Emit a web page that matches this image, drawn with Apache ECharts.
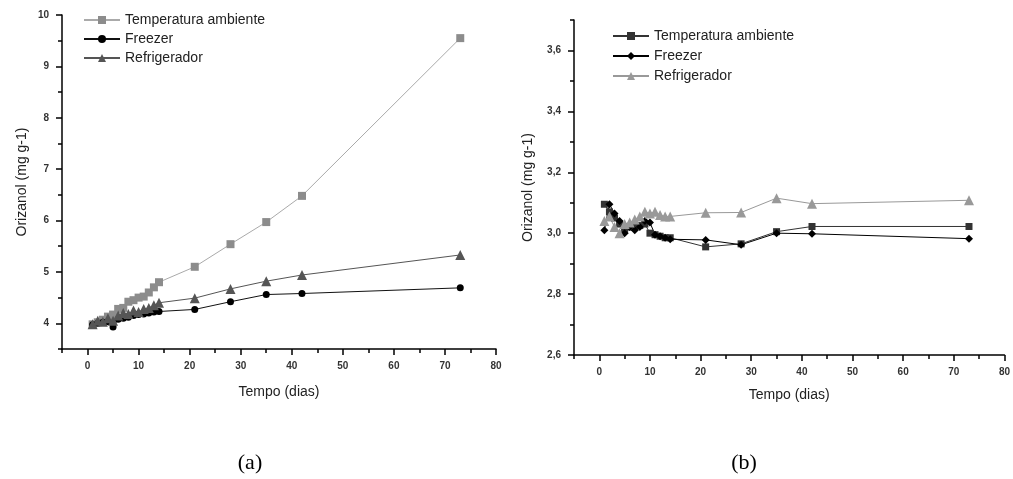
<!DOCTYPE html>
<html>
<head>
<meta charset="utf-8">
<script src="https://cdn.jsdelivr.net/npm/echarts@6/dist/echarts.min.js"></script>
<style>
  html, body { margin: 0; padding: 0; background: #fff; }
  #chart { width: 1013px; height: 479px; }
</style>
</head>
<body>
<div id="chart"></div>
<script>
// dias de armazenamento
const days = [1, 2, 3, 4, 5, 6, 7, 8, 9, 10, 11, 12, 13, 14, 21, 28, 35, 42, 73]

// (a)
const tempA    = [3.98, 4.02, 4.07, 4.13, 4.17, 4.28, 4.30, 4.42, 4.45, 4.50, 4.52, 4.60, 4.70, 4.80, 5.10, 5.54, 5.97, 6.48, 9.55]
const freezerA = [3.97, 4.00, 4.02, 4.03, 3.93, 4.08, 4.10, 4.12, 4.15, 4.17, 4.18, 4.20, 4.22, 4.23, 4.27, 4.42, 4.56, 4.58, 4.69]
const refrigA  = [3.98, 4.05, 4.03, 4.10, 4.05, 4.15, 4.20, 4.18, 4.25, 4.22, 4.28, 4.30, 4.35, 4.40, 4.49, 4.67, 4.82, 4.94, 5.33]

// (b)
const tempB    = [3.095, 3.07, 3.05, 3.03, 3.01, 3.02, 3.02, 3.025, 3.03, 3.0, 2.995, 2.99, 2.985, 2.985, 2.955, 2.965, 3.005, 3.022, 3.022]
const freezerB = [3.01, 3.095, 3.065, 3.04, 3.0, 3.02, 3.01, 3.02, 3.04, 3.035, 2.995, 2.99, 2.985, 2.98, 2.978, 2.962, 3.0, 2.998, 2.982]
const refrigB  = [3.04, 3.055, 3.02, 3.0, 3.03, 3.035, 3.045, 3.055, 3.07, 3.065, 3.07, 3.06, 3.055, 3.055, 3.067, 3.068, 3.115, 3.097, 3.108]

const names = ['Temperatura ambiente', 'Freezer', 'Refrigerador']

// ticks
const xMajor = [0, 10, 20, 30, 40, 50, 60, 70, 80]
const xMinor = [-5, 5, 15, 25, 35, 45, 55, 65, 75]
const yMajorA = [4, 5, 6, 7, 8, 9, 10]
const yMinorA = [3.5, 4.5, 5.5, 6.5, 7.5, 8.5, 9.5]
const yMajorB = [2.6, 2.8, 3.0, 3.2, 3.4, 3.6]
const yMinorB = [2.7, 2.9, 3.1, 3.3, 3.5, 3.7]

const FONT = '"Liberation Sans", Arial, sans-serif'
const labelStyle = { fontFamily: FONT, fontSize: 10, fontWeight: 'bold', color: '#333' }
const nameStyle = { fontFamily: FONT, fontSize: 14, color: '#222' }

const pair = arr => days.map((d, i) => [d, arr[i]])

const xAxisPair = (grid, gap) => [
  {
    gridIndex: grid, type: 'value', min: -5, max: 80, position: 'bottom',
    name: 'Tempo (dias)', nameLocation: 'middle', nameGap: gap, nameTextStyle: nameStyle,
    axisLine: { onZero: false, lineStyle: { color: '#000', width: 1.5 } },
    axisTick: { customValues: xMajor, length: 6, lineStyle: { color: '#000', width: 1.5 } },
    axisLabel: { customValues: xMajor, margin: 12, ...labelStyle },
    splitLine: { show: false }
  },
  {
    gridIndex: grid, type: 'value', min: -5, max: 80, position: 'bottom',
    axisLine: { show: false, onZero: false },
    axisTick: { customValues: xMinor, length: 4, lineStyle: { color: '#000', width: 1.5 } },
    axisLabel: { show: false }, splitLine: { show: false }
  }
]

const yAxisPair = (grid, min, max, major, minor, gap, fmt) => [
  {
    gridIndex: grid, type: 'value', min, max, position: 'left',
    name: 'Orizanol (mg g-1)', nameLocation: 'middle', nameGap: gap, nameRotate: 90, nameTextStyle: nameStyle,
    axisLine: { show: true, onZero: false, lineStyle: { color: '#000', width: 1.5 } },
    axisTick: { show: true, customValues: major, length: 6, lineStyle: { color: '#000', width: 1.5 } },
    axisLabel: { customValues: major, margin: 13, formatter: fmt, ...labelStyle },
    splitLine: { show: false }
  },
  {
    gridIndex: grid, type: 'value', min, max, position: 'left',
    axisLine: { show: false, onZero: false },
    axisTick: { show: true, customValues: minor, length: 4, lineStyle: { color: '#000', width: 1.5 } },
    axisLabel: { show: false }, splitLine: { show: false }
  }
]

const line = (name, data, xi, yi, symbol, size, mColor, lColor) => ({
  name, type: 'line', data, xAxisIndex: xi, yAxisIndex: yi,
  symbol, symbolSize: size, showAllSymbol: true,
  itemStyle: { color: mColor },
  lineStyle: { color: lColor, width: 1 },
  emphasis: { disabled: true }
})

const chart = echarts.init(document.getElementById('chart'))
chart.setOption({
  animation: false,
  backgroundColor: '#fff',
  grid: [
    { left: 62, right: 517, top: 15, bottom: 130 },
    { left: 574, right: 5, top: 20, bottom: 124 }
  ],
  xAxis: [...xAxisPair(0, 36), ...xAxisPair(1, 33)],
  yAxis: [
    ...yAxisPair(0, 3.5, 10, yMajorA, yMinorA, 33, v => String(v)),
    ...yAxisPair(1, 2.6, 3.7, yMajorB, yMinorB, 39, v => v.toFixed(1).replace('.', ','))
  ],
  legend: [
    {
      left: 78, top: 8, orient: 'vertical', itemWidth: 36, itemHeight: 10, itemGap: 5,
      data: names, textStyle: { fontFamily: FONT, fontSize: 14, color: '#222' }
    },
    {
      left: 607, top: 24, orient: 'vertical', itemWidth: 36, itemHeight: 10, itemGap: 6,
      data: names.map(n => 'b:' + n), formatter: n => n.slice(2),
      textStyle: { fontFamily: FONT, fontSize: 14, color: '#222' }
    }
  ],
  series: [
    line(names[0], pair(tempA), 0, 0, 'rect', 8, '#8c8c8c', '#aaaaaa'),
    line(names[1], pair(freezerA), 0, 0, 'circle', 7, '#000', '#111'),
    line(names[2], pair(refrigA), 0, 0, 'triangle', 10, '#555', '#555'),
    line('b:' + names[0], pair(tempB), 2, 2, 'rect', 7, '#333', '#333'),
    line('b:' + names[1], pair(freezerB), 2, 2, 'diamond', 8, '#000', '#000'),
    line('b:' + names[2], pair(refrigB), 2, 2, 'triangle', 10, '#999', '#999')
  ],
  graphic: [
    { type: 'text', x: 250, y: 463, style: { text: '(a)', font: '22px "Liberation Serif", serif', fill: '#000', textAlign: 'center', textVerticalAlign: 'middle' } },
    { type: 'text', x: 744, y: 463, style: { text: '(b)', font: '22px "Liberation Serif", serif', fill: '#000', textAlign: 'center', textVerticalAlign: 'middle' } }
  ]
})
</script>
</body>
</html>
